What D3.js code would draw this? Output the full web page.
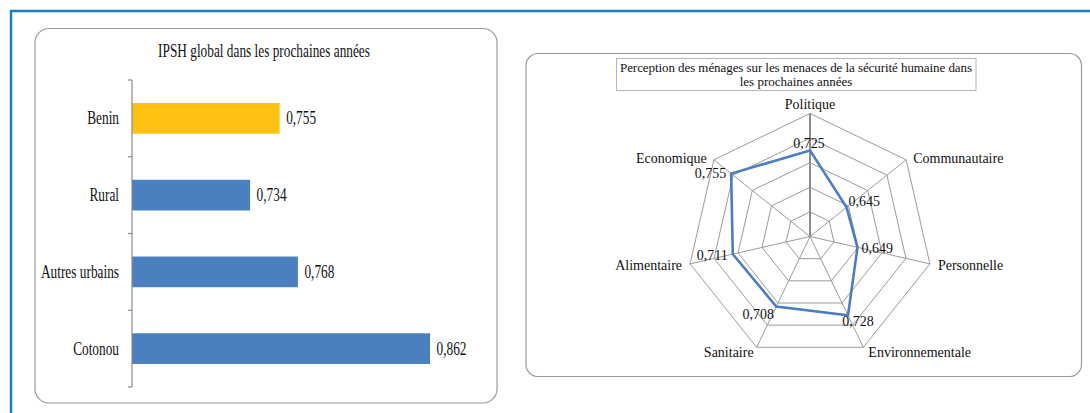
<!DOCTYPE html>
<html>
<head>
<meta charset="utf-8">
<script src="https://cdn.jsdelivr.net/npm/d3@7"></script>
<style>
  html, body { margin: 0; padding: 0; background: #fff; }
  svg { display: block; }
  text { font-family: "Liberation Serif", "Tinos", "Times New Roman", Times, "DejaVu Serif", "Noto Serif", serif; fill: #111; }
</style>
</head>
<body>
<svg id="chart" width="1090" height="413"></svg>
<script>
// ---- data ----
const barTitle = "IPSH global dans les prochaines années";
const barCategories = ["Benin", "Rural", "Autres urbains", "Cotonou"];
const barValues = [0.755, 0.734, 0.768, 0.862];
const barHighlight = "Benin";

const radarTitleLines = ["Perception des ménages sur les menaces de la sécurité humaine dans", "les prochaines années"];
const radarAxes = ["Politique", "Communautaire", "Personnelle", "Environnementale", "Sanitaire", "Alimentaire", "Economique"];
const radarValues = [0.725, 0.645, 0.649, 0.728, 0.708, 0.711, 0.755];
const radarTicks = [0.55, 0.60, 0.65, 0.70, 0.75, 0.80];

// ---- helpers ----
const locale = d3.formatLocale({decimal: ",", thousands: " ", grouping: [3], currency: ["", ""]});
const fmt = locale.format(".3f");
const svg = d3.select("#chart");

// outer blue frame
svg.append("line").attr("x1", 10).attr("x2", 1090).attr("y1", 11).attr("y2", 11)
  .attr("stroke", "#1b7cc6").attr("stroke-width", 2.5);
svg.append("line").attr("x1", 11).attr("x2", 11).attr("y1", 10).attr("y2", 413)
  .attr("stroke", "#1b7cc6").attr("stroke-width", 2.5);

// ---- left panel: bar chart ----
svg.append("rect").attr("x", 35).attr("y", 28.5).attr("width", 462).attr("height", 374.5)
  .attr("rx", 14).attr("ry", 14).attr("fill", "#fff").attr("stroke", "#9a9a9a").attr("stroke-width", 1.2);

const SX = 0.74; // horizontal compression of the original text
function ctext(g, x, y, str, size, anchor) {
  return g.append("text")
    .attr("transform", `translate(${x},${y}) scale(${SX},1)`)
    .attr("text-anchor", anchor)
    .attr("font-size", size)
    .text(str);
}

ctext(svg, 264, 57, barTitle, 18, "middle");

const y = d3.scaleBand().domain(barCategories).range([80, 387]).paddingInner(0.6).paddingOuter(0.3);
const x = d3.scaleLinear().domain([0.65, 0.9]).range([132, 483.5]);

const bars = svg.append("g");
bars.selectAll("rect").data(barCategories).join("rect")
  .attr("x", x(0.65))
  .attr("y", d => y(d))
  .attr("width", (d, i) => x(barValues[i]) - x(0.65))
  .attr("height", y.bandwidth())
  .attr("fill", d => d === barHighlight ? "#fdc113" : "#4a80c0");

// axis line with boundary ticks
const axisG = svg.append("g").attr("stroke", "#8a8a8a").attr("stroke-width", 1.2);
axisG.append("line").attr("x1", x(0.65)).attr("x2", x(0.65)).attr("y1", y.range()[0]).attr("y2", y.range()[1]);
const bounds = barCategories.map(d => y(d) - y.step() * y.paddingInner() / 2).concat([y.range()[1]]);
axisG.selectAll("line.tk").data(bounds).join("line").attr("class", "tk")
  .attr("x1", x(0.65) - 4).attr("x2", x(0.65)).attr("y1", d => d).attr("y2", d => d);

barCategories.forEach((c, i) => {
  const cy = y(c) + y.bandwidth() / 2 + 6;
  ctext(svg, x(0.65) - 13, cy, c, 18, "end");
  ctext(svg, x(barValues[i]) + 6.5, cy, fmt(barValues[i]), 18, "start");
});

// ---- right panel: radar chart ----
svg.append("rect").attr("x", 526).attr("y", 53.5).attr("width", 555.5).attr("height", 323)
  .attr("rx", 12).attr("ry", 12).attr("fill", "#fff").attr("stroke", "#9a9a9a").attr("stroke-width", 1.2);

svg.append("rect").attr("x", 616.5).attr("y", 58.5).attr("width", 359.5).attr("height", 32)
  .attr("fill", "#fff").attr("stroke", "#b5b5b5").attr("stroke-width", 1);
svg.append("text").attr("x", 796).attr("y", 72).attr("text-anchor", "middle").attr("font-size", 13)
  .attr("textLength", 352).attr("lengthAdjust", "spacing").text(radarTitleLines[0]);
svg.append("text").attr("x", 796).attr("y", 85.5).attr("text-anchor", "middle").attr("font-size", 13)
  .text(radarTitleLines[1]);

const cx = 810, cy = 236.5, R = 123;
const n = radarAxes.length;
const r = d3.scaleLinear().domain([radarTicks[0], radarTicks[radarTicks.length - 1]]).range([0, R]);
const ang = i => i * 2 * Math.PI / n; // 0 = top, clockwise
const pt = (i, rad) => [cx + rad * Math.sin(ang(i)), cy - rad * Math.cos(ang(i))];

const radarG = svg.append("g");
const ringLine = d3.lineRadial().angle((d, i) => ang(i)).radius(d => d).curve(d3.curveLinearClosed);

radarG.selectAll("path.ring").data(radarTicks.slice(1)).join("path").attr("class", "ring")
  .attr("transform", `translate(${cx},${cy})`)
  .attr("d", t => ringLine(radarAxes.map(() => r(t))))
  .attr("fill", "none").attr("stroke", "#9b9b9b").attr("stroke-width", 1);

radarG.selectAll("line.spoke").data(radarAxes).join("line").attr("class", "spoke")
  .attr("x1", cx).attr("y1", cy)
  .attr("x2", (d, i) => pt(i, R)[0]).attr("y2", (d, i) => pt(i, R)[1])
  .attr("stroke", (d, i) => i === 0 ? "#8c8c8c" : "#9b9b9b")
  .attr("stroke-width", (d, i) => i === 0 ? 2 : 1);

radarG.append("path")
  .attr("transform", `translate(${cx},${cy})`)
  .attr("d", ringLine(radarValues.map(v => r(v))))
  .attr("fill", "none").attr("stroke", "#4a7ec0").attr("stroke-width", 2.6).attr("stroke-linejoin", "miter");

// axis labels (layout offsets relative to outer vertex)
const axisLabelPos = [
  {dx: 0, dy: -4.5, a: "middle"},
  {dx: 7, dy: 3.5, a: "start"},
  {dx: 8, dy: 6, a: "start"},
  {dx: 5, dy: 10, a: "start"},
  {dx: -3, dy: 10, a: "end"},
  {dx: -8, dy: 6, a: "end"},
  {dx: -7, dy: 3.5, a: "end"}
];
radarAxes.forEach((name, i) => {
  const p = pt(i, R), o = axisLabelPos[i];
  svg.append("text").attr("x", p[0] + o.dx).attr("y", p[1] + o.dy)
    .attr("text-anchor", o.a).attr("font-size", 14).text(name);
});

// data labels (layout offsets relative to data point)
const dataLabelPos = [
  {dx: -1, dy: -2.5, a: "middle"},
  {dx: 2, dy: -1, a: "start"},
  {dx: 4, dy: 6, a: "start"},
  {dx: 10, dy: 11, a: "middle"},
  {dx: -18, dy: 12, a: "middle"},
  {dx: -5, dy: 6, a: "end"},
  {dx: -5, dy: 4, a: "end"}
];
radarValues.forEach((v, i) => {
  const p = pt(i, r(v)), o = dataLabelPos[i];
  svg.append("text").attr("x", p[0] + o.dx).attr("y", p[1] + o.dy)
    .attr("text-anchor", o.a).attr("font-size", 14).text(fmt(v));
});
</script>
</body>
</html>
